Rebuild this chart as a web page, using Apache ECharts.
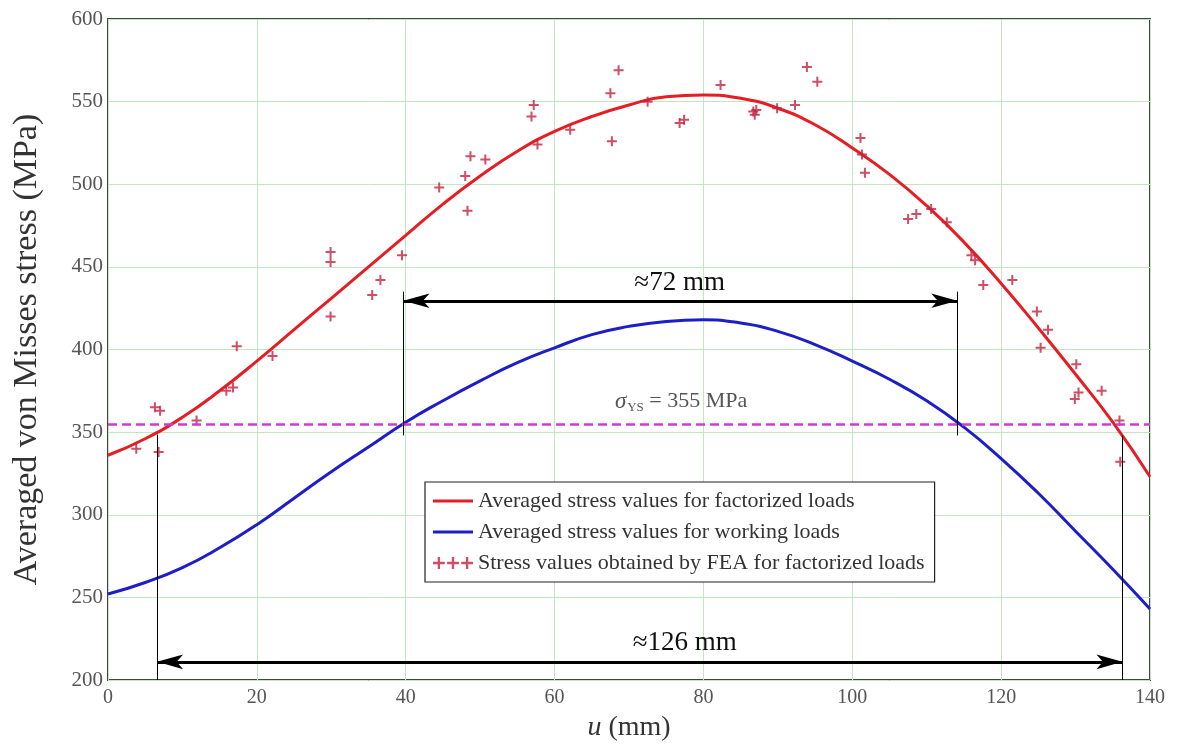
<!DOCTYPE html>
<html>
<head>
<meta charset="utf-8">
<script src="https://cdn.jsdelivr.net/npm/echarts@6/dist/echarts.min.js"></script>
<style>html,body{margin:0;padding:0;background:#fff}#c{width:1184px;height:747px}</style>
</head>
<body>
<div id="c"></div>
<script>
// u (mm) vs averaged stress (MPa)
const redCurve = [[0,336],[5,346],[10,359],[15,375],[20,393],[25,412],[30,431],[35,450],[40,469],[45,488],[50,505],[55,520],[60,532],[65,541],[70,548],[75,553],[80,554],[85,552],[90,546],[95,536],[100,522],[105,506],[110,487],[115,465],[120,440],[125,413],[130,385],[135,356],[140,323]];
const blueCurve = [[0,252],[5,259],[10,268],[15,280],[20,294],[25,310],[30,326],[35,341],[40,356],[45,369],[50,381],[55,392],[60,401],[65,409],[70,414],[75,417],[80,418],[85,416],[90,411],[95,403],[100,393],[105,382],[110,369],[115,353],[120,334],[125,313],[130,290],[135,267],[140,243]];
const feaPoints = [[3.8,340],[6.3,365],[7.0,363],[6.8,338],[11.9,357],[15.9,375],[16.8,377],[17.3,402],[22.1,396],[29.9,459],[29.9,453],[29.9,420],[35.5,433],[36.6,442],[39.5,457],[44.5,498],[48.3,484],[48.0,505],[48.7,517],[50.7,515],[57.2,548],[56.9,541],[57.7,524],[62.1,533],[67.5,555],[68.6,569],[67.7,526],[72.5,550],[76.8,537],[77.4,539],[82.3,560],[86.7,544],[87.1,545],[86.9,542],[89.9,546],[92.3,548],[93.9,571],[95.3,562],[101.1,528],[101.3,518],[101.7,507],[107.5,479],[108.6,482],[110.6,485],[112.7,477],[116.0,457],[116.5,454],[117.6,439],[121.5,442],[124.8,423],[126.3,412],[125.3,401],[130.1,391],[130.4,374],[129.9,370],[133.5,375],[135.9,357],[136.0,332]];
const yieldStress = 355;
const span72 = [39.7, 114.1];
const span126 = [6.6, 136.3];
const xTicks = [0,20,40,60,80,100,120,140];
const yTicks = [200,250,300,350,400,450,500,550,600];

const names = ['Averaged stress values for factorized loads','Averaged stress values for working loads','Stress values obtained by FEA for factorized loads'];
const serif = 'Liberation Serif';
const plusPath = 'path://M4,0H6V10H4Z M0,4H10V6H0Z';
const triplePlus = 'path://M4,0H6V10H4Z M0,4H10V6H0Z M16,0H18V10H16Z M12,4H22V6H12Z M28,0H30V10H28Z M24,4H34V6H24Z';
const lineIcon = 'path://M0,0H40V3H0Z';
const vline = (x, y1, y2) => [{coord:[x,y1], lineStyle:{color:'#000', width:1, type:'solid'}},{coord:[x,y2]}];
const arrow = (x1, x2, y) => [{coord:[x1,y], symbol:'arrow', symbolSize:[11,26], lineStyle:{color:'#000', width:3, type:'solid'}},{coord:[x2,y], symbol:'arrow', symbolSize:[11,26]}];
const txt = (x, y, s) => ({coord:[x,y], label:{show:true, position:'inside', formatter:s, fontFamily:serif, fontSize:27, color:'#111'}});

const chart = echarts.init(document.getElementById('c'));
chart.setOption({
  animation: false,
  backgroundColor: '#fff',
  grid: {left:108, right:34, top:19, bottom:64, show:true, borderColor:'#444', borderWidth:2, backgroundColor:'transparent'},
  legend: {
    orient:'vertical', left:425, top:482, padding:[8,10,8,8], itemGap:9,
    itemWidth:40, itemHeight:12, backgroundColor:'#fff', borderColor:'#222', borderWidth:1.2,
    textStyle:{fontFamily:serif, fontSize:22, color:'#333'},
    data:[{name:names[0], icon:lineIcon},{name:names[1], icon:lineIcon},{name:names[2], icon:triplePlus}]
  },
  xAxis: {
    type:'value', min:xTicks[0], max:xTicks[xTicks.length-1], interval:20,
    name:'{i|u} (mm)', nameLocation:'middle', nameGap:34,
    nameTextStyle:{fontFamily:serif, fontSize:28, color:'#333', rich:{i:{fontStyle:'italic', fontFamily:serif, fontSize:28, color:'#333'}}},
    axisLine:{show:false}, axisTick:{show:false},
    axisLabel:{fontFamily:serif, fontSize:20, color:'#555', margin:8},
    splitLine:{lineStyle:{color:'#c2e6c2', width:1}}
  },
  yAxis: {
    type:'value', min:yTicks[0], max:yTicks[yTicks.length-1], interval:50,
    name:'Averaged von Misses stress (MPa)', nameLocation:'middle', nameGap:64,
    nameTextStyle:{fontFamily:serif, fontSize:34, color:'#333'},
    axisLine:{show:false}, axisTick:{show:false},
    axisLabel:{fontFamily:serif, fontSize:21, color:'#555', margin:5},
    splitLine:{lineStyle:{color:'#c2e6c2', width:1}}
  },
  series: [
    {name:names[0], type:'line', data:redCurve, smooth:0.5, symbol:'none', lineStyle:{color:'#e41e24', width:3}, itemStyle:{color:'#e41e24'}, z:3},
    {name:names[1], type:'line', data:blueCurve, smooth:0.5, symbol:'none', lineStyle:{color:'#1e1ec8', width:3}, itemStyle:{color:'#1e1ec8'}, z:3,
      markLine:{
        silent:true, symbol:'none', animation:false, label:{show:false},
        data:[
          [{coord:[xTicks[0],yieldStress], lineStyle:{color:'#d23ad6', width:2.5, type:[9,5]}},{coord:[xTicks[xTicks.length-1],yieldStress]}],
          vline(span72[0],435,348), vline(span72[1],435,348),
          vline(span126[0],348.5,200), vline(span126[1],348,200),
          arrow(span72[0], span72[1], 429.5),
          arrow(span126[0], span126[1], 211)
        ]
      },
      markPoint:{
        silent:true, symbol:'circle', symbolSize:0, animation:false,
        data:[
          {coord:[77,368.5], label:{show:true, position:'inside', formatter:'{s|σ}{sub|YS}{n| = 355 MPa}',
            rich:{s:{fontFamily:serif, fontStyle:'italic', fontSize:23, color:'#555'}, sub:{fontFamily:serif, fontSize:13, color:'#555', padding:[12,0,0,1]}, n:{fontFamily:serif, fontSize:22, color:'#555'}}}},
          txt(76.8, 440.5, '≈72 mm'),
          txt(77.5, 222.5, '≈126 mm')
        ]
      }
    },
    {name:names[2], type:'scatter', data:feaPoints, symbol:plusPath, symbolSize:10, itemStyle:{color:'#c42040'}, z:4}
  ]
});
</script>
</body>
</html>
